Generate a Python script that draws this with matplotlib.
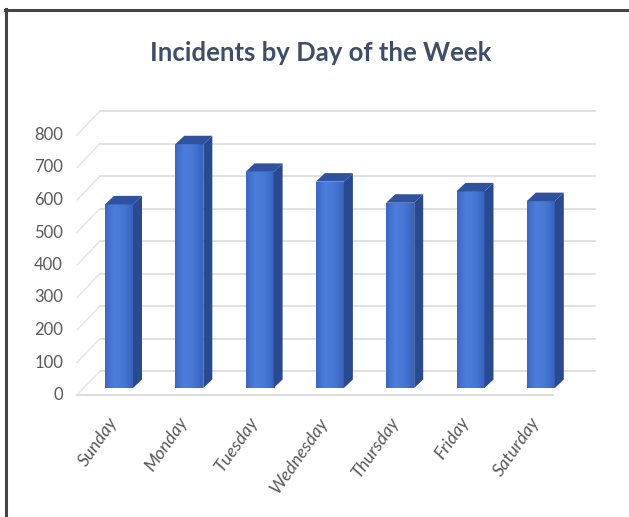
import numpy as np
import matplotlib.pyplot as plt
from matplotlib.patches import Polygon, Rectangle
from matplotlib.colors import LinearSegmentedColormap

days = ["Sunday", "Monday", "Tuesday", "Wednesday", "Thursday", "Friday", "Saturday"]
incidents = [565, 750, 665, 635, 570, 605, 575]
yticks = [0, 100, 200, 300, 400, 500, 600, 700, 800]

W, H = 629, 517
fig = plt.figure(figsize=(W / 100, H / 100), dpi=100)

# axes box in pixels (top-left origin); data units picked so bars land where Excel put them
AX_L, AX_R, AX_T, AX_B = 40, 615, 95, 420
ax = fig.add_axes([AX_L / W, 1 - AX_B / H, (AX_R - AX_L) / W, (AX_B - AX_T) / H])
PX_X = 70.3    # px per category
PX_Y = 0.325   # px per incident
X0, Y0 = 119, 388   # px of first bar centre / bar base


def px_x(px):
    return (px - X0) / PX_X


def dx(px):
    return px / PX_X


def dy(px):
    return px / PX_Y


GRID = "#d9d9d9"
TEXT = "#595959"

# back wall gridlines, side wall diagonals, floor edge (fake 3D)
for v in yticks:
    ax.plot([px_x(100), px_x(595)], [v + dy(17), v + dy(17)], color=GRID, lw=1.1, zorder=1)
    ax.plot([px_x(77), px_x(100)], [v - dy(7), v + dy(17)], color="#e4e4e4", lw=1.0, zorder=1)
    ax.text(px_x(63), v - dy(7), f"{v}", ha="right", va="center",
            fontsize=12, color=TEXT, family="Lato")
ax.plot([px_x(77), px_x(553)], [-dy(7), -dy(7)], color=GRID, lw=1.3, zorder=1)

front_cmap = LinearSegmentedColormap.from_list(
    "front", ["#3b67c6", "#4d7edb", "#4677d6", "#3762bd"])
w = dx(28)
bdx, bdy = dx(9), dy(8.5)
grad = np.linspace(0, 1, 64).reshape(1, -1)
for i, v in enumerate(incidents):
    left, right = i - w / 2, i + w / 2
    rect = Rectangle((left, 0), w, v, facecolor="none", edgecolor="none", zorder=3)
    ax.add_patch(rect)
    im = ax.imshow(grad, cmap=front_cmap, extent=[left, right, 0, v],
                   aspect="auto", zorder=3, interpolation="bilinear")
    im.set_clip_path(rect)
    ax.add_patch(Polygon([(right, 0), (right + bdx, bdy), (right + bdx, v + bdy), (right, v)],
                         closed=True, facecolor="#2a4a90", edgecolor="none", zorder=3))
    ax.add_patch(Polygon([(left, v), (left + bdx, v + bdy), (right + bdx, v + bdy), (right, v)],
                         closed=True, facecolor="#2f519e", edgecolor="none", zorder=3))
    ax.text(i - dx(5), -dy(31), days[i], rotation=55, rotation_mode="anchor",
            ha="right", va="center", fontsize=13, color=TEXT,
            family="Lato", style="italic")

ax.set_xlim(px_x(AX_L), px_x(AX_R))
ax.set_ylim((Y0 - AX_B) / PX_Y, (Y0 - AX_T) / PX_Y)
ax.axis("off")

fig.text(320.5 / W, 1 - 53 / H, "Incidents by Day of the Week", ha="center", va="center",
         fontsize=18.5, fontweight="bold", color="#3f4e66", family="Lato")

# chart frame: dark edge on top and left only, as in the screenshot
fig.add_artist(plt.Line2D([6 / W, 6 / W], [0, 1 - 9 / H], color="#444444", lw=2.2))
fig.add_artist(plt.Line2D([5 / W, 1], [1 - 10 / H, 1 - 10 / H], color="#444444", lw=2.2))

fig.savefig("out.png", dpi=100)
